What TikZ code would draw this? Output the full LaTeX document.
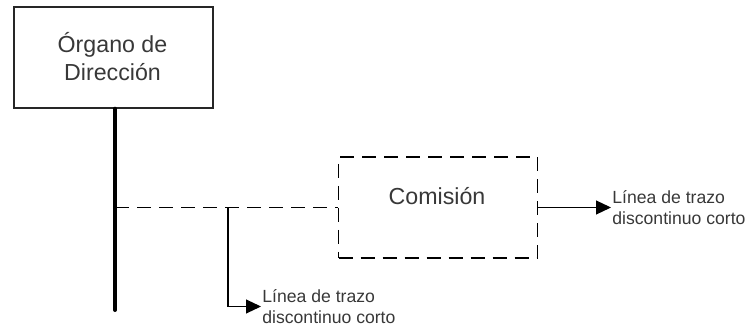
\documentclass[tikz,border=0pt]{standalone}
\usepackage{fontspec}
\setmainfont{Liberation Sans}
\usepackage{tikz}
\usetikzlibrary{arrows.meta}
\definecolor{txtgray}{HTML}{383838}

\begin{document}
\begin{tikzpicture}[x=0.5pt, y=-0.5pt,
	unitbox/.style={draw=black!85, line width=0.7pt, minimum width=99.5pt, minimum height=50.5pt, inner sep=0pt},
	dashbox/.style={unitbox, draw=black, dash pattern=on 7pt off 4pt, line width=0.9pt},
	bigtext/.style={text=txtgray, font=\fontsize{11.6}{14}\selectfont, align=center},
	smalltext/.style={text=txtgray, font=\fontsize{8.8}{10.5}\selectfont, align=left, anchor=west, inner sep=0.5pt},
	stemline/.style={line width=2pt, line cap=round},
	dashline/.style={line width=0.9pt, dash pattern=on 7pt off 4pt},
	thinarrow/.style={line width=0.55pt, -{Triangle[length=7.5pt, width=7pt]}}
]
\useasboundingbox (0,0) rectangle (748,325);
\node[unitbox] (organo) at (113.5,57.5) {};
\node[bigtext] (organotext) at (112.5,57) {Órgano de\\Dirección};
\node[dashbox] (comision) at (438,207.5) {};
\node[bigtext] (comisiontext) at (437,196) {Comisión};
\node[smalltext] (notabajo) at (261,306.5) {Línea de trazo\\discontinuo corto};
\node[smalltext] (notadcha) at (611,207.5) {Línea de trazo\\discontinuo corto};
\coordinate (stemend) at (115,310);
\coordinate (branch) at (228,207.5);

\draw[stemline] (organo.south -| stemend) -- (stemend);
\draw[dashline] (stemend |- comision.west) -- (comision.west);
\draw[thinarrow] (branch) |- (notabajo.west);
\draw[thinarrow] (comision.east) -- (notadcha.west);
\end{tikzpicture}
\end{document}
